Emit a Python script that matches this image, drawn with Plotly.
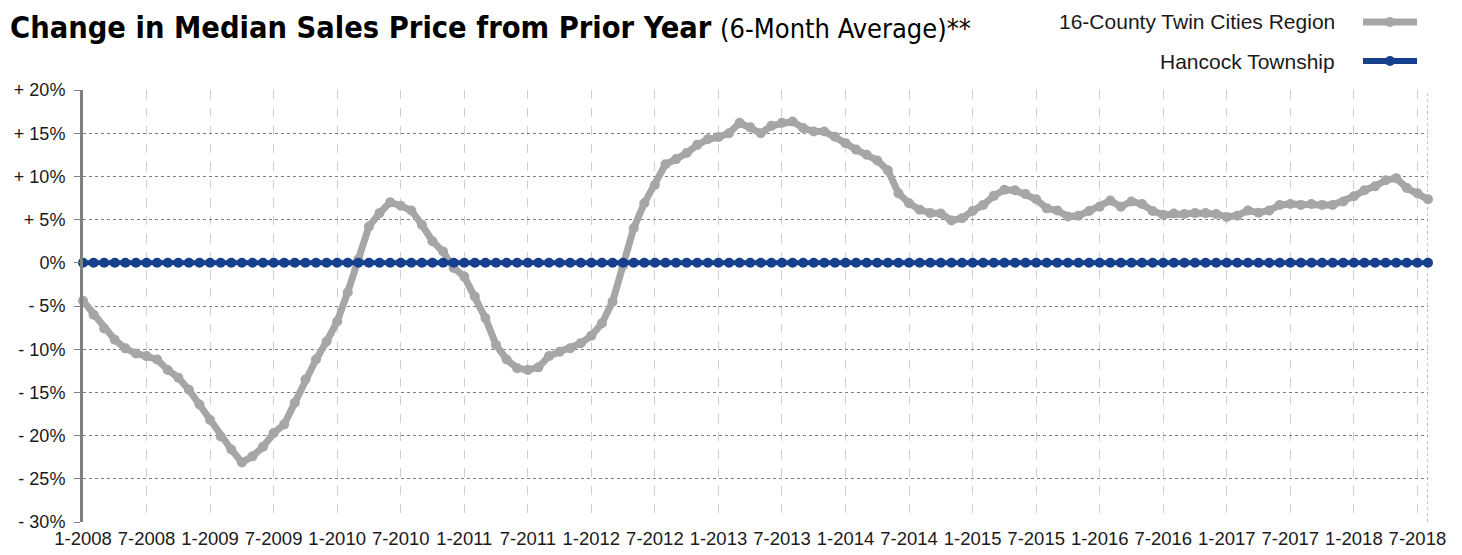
import plotly.graph_objects as go

# ---- data ----
region_name = "16-County Twin Cities Region"
township_name = "Hancock Township"

# Monthly values, 1-2008 .. 8-2018 (% change in 6-month average median sales price)
region_values = [
    -4.4, -6.0, -7.6, -8.9, -9.9, -10.5, -10.8, -11.2, -12.4, -13.3, -14.7, -16.4,
    -18.2, -20.1, -21.6, -23.1, -22.4, -21.3, -19.7, -18.7, -16.2, -13.5, -11.2, -9.1,
    -6.8, -3.4, 0.4, 4.2, 5.75, 7.0, 6.6, 6.05, 4.4, 2.5, 1.3, -0.6,
    -1.6, -3.9, -6.4, -9.5, -11.2, -12.2, -12.4, -12.1, -10.8, -10.3, -9.9, -9.3,
    -8.45, -7.0, -4.5, -0.3, 4.0, 6.9, 9.0, 11.4, 12.0, 12.7, 13.65, 14.3,
    14.55, 15.0, 16.2, 15.7, 15.0, 15.85, 16.2, 16.35, 15.6, 15.2, 15.2, 14.6,
    13.85, 13.1, 12.5, 11.85, 10.7, 8.05, 6.9, 6.15, 5.75, 5.7, 4.9, 5.15,
    6.0, 6.7, 7.75, 8.45, 8.4, 7.95, 7.35, 6.3, 6.05, 5.35, 5.45, 6.0,
    6.5, 7.2, 6.5, 7.1, 6.8, 6.0, 5.55, 5.7, 5.65, 5.75, 5.75, 5.65,
    5.3, 5.45, 6.05, 5.8, 6.05, 6.7, 6.8, 6.7, 6.8, 6.7, 6.7, 7.1,
    7.7, 8.4, 8.85, 9.55, 9.8, 8.65, 8.05, 7.35,
]

township_values = [
    0, 0, 0, 0, 0, 0, 0, 0, 0, 0, 0, 0, 0, 0, 0, 0,
    0, 0, 0, 0, 0, 0, 0, 0, 0, 0, 0, 0, 0, 0, 0, 0,
    0, 0, 0, 0, 0, 0, 0, 0, 0, 0, 0, 0, 0, 0, 0, 0,
    0, 0, 0, 0, 0, 0, 0, 0, 0, 0, 0, 0, 0, 0, 0, 0,
    0, 0, 0, 0, 0, 0, 0, 0, 0, 0, 0, 0, 0, 0, 0, 0,
    0, 0, 0, 0, 0, 0, 0, 0, 0, 0, 0, 0, 0, 0, 0, 0,
    0, 0, 0, 0, 0, 0, 0, 0, 0, 0, 0, 0, 0, 0, 0, 0,
    0, 0, 0, 0, 0, 0, 0, 0, 0, 0, 0, 0, 0, 0, 0, 0,
]

x_tick_labels = [
    "1-2008", "7-2008", "1-2009", "7-2009", "1-2010", "7-2010", "1-2011", "7-2011",
    "1-2012", "7-2012", "1-2013", "7-2013", "1-2014", "7-2014", "1-2015", "7-2015",
    "1-2016", "7-2016", "1-2017", "7-2017", "1-2018", "7-2018",
]
y_tick_values = [20, 15, 10, 5, 0, -5, -10, -15, -20, -25, -30]
y_tick_labels = ["+ 20%", "+ 15%", "+ 10%", "+ 5%", "0%", "- 5%", "- 10%",
                 "- 15%", "- 20%", "- 25%", "- 30%"]

title_main = "Change in Median Sales Price from Prior Year"
title_sub = "(6-Month Average)**"

# ---- styling ----
GRAY = "#a6a6a6"
BLUE = "#163f8e"
TEXT = "#1a1a1a"
OFF = 8  # page body margin
W, H = 1462 - 2 * OFF, 555 - 2 * OFF
ML, MR, MT, MB = 83 - OFF, 26, 90 - OFF, 25
PW, PH = W - ML - MR, H - MT - MB

x_idx = list(range(len(region_values)))
x_tick_vals = [i * 6 for i in range(len(x_tick_labels))]


def px_x(px):
    # page pixel -> paper fraction
    return (px - OFF - ML) / PW


def px_y(py):
    return (OFF + H - MB - py) / PH


fig = go.Figure()
fig.add_trace(go.Scatter(
    x=x_idx, y=region_values, mode="lines+markers", name=region_name,
    line=dict(color=GRAY, width=7), marker=dict(color=GRAY, size=10),
    cliponaxis=False, showlegend=False,
))
fig.add_trace(go.Scatter(
    x=x_idx, y=township_values, mode="lines+markers", name=township_name,
    line=dict(color=BLUE, width=5), marker=dict(color=BLUE, size=10),
    cliponaxis=False, showlegend=False,
))

shapes = []
# right border of plot (dotted)
shapes.append(dict(type="line", xref="x", yref="y", x0=x_idx[-1], x1=x_idx[-1],
                   y0=-30, y1=20, line=dict(color="#8c8c8c", width=1, dash="dot"),
                   layer="below"))

# custom legend (text on the left, symbol on the right)
legend_items = [(region_name, GRAY, 7, 22), (township_name, BLUE, 6, 61)]
annotations = []
for name, col, lw, py in legend_items:
    yy = px_y(py)
    shapes.append(dict(type="line", xref="paper", yref="paper",
                       x0=px_x(1363), x1=px_x(1417), y0=yy, y1=yy,
                       line=dict(color=col, width=lw)))
    r = 5
    shapes.append(dict(type="circle", xref="paper", yref="paper",
                       x0=px_x(1390 - r), x1=px_x(1390 + r),
                       y0=px_y(py + r), y1=px_y(py - r),
                       fillcolor=col, line=dict(color=col, width=0)))
    annotations.append(dict(text=name, xref="paper", yref="paper",
                            x=px_x(1337), y=yy, xanchor="right", yanchor="middle",
                            showarrow=False,
                            font=dict(family="Liberation Sans, Arial, sans-serif",
                                      size=21, color=TEXT)))

fig.update_layout(
    width=W, height=H,
    margin=dict(l=ML, r=MR, t=MT, b=MB, autoexpand=False),
    paper_bgcolor="white", plot_bgcolor="white",
    title=dict(
        text=f"<b>{title_main}</b> <span style='font-size:27px'>{title_sub}</span>",
        xref="container", yref="container", x=(10 - OFF) / W, y=1 - (27 - OFF) / H,
        xanchor="left", yanchor="middle",
        font=dict(family="Liberation Sans Narrow, DejaVu Sans Condensed, Roboto Condensed, Arial Narrow, sans-serif",
                  size=30.5, color="#000000"),
    ),
    shapes=shapes, annotations=annotations,
    showlegend=False,
)

fig.update_xaxes(
    range=[x_idx[0], x_idx[-1]],
    tickmode="array", tickvals=x_tick_vals, ticktext=x_tick_labels,
    showgrid=True, gridcolor="#cfcfcf", gridwidth=1, griddash="dash",
    showline=False, zeroline=False, ticks="", ticklabelstandoff=3,
    tickfont=dict(family="Liberation Sans, Arial, sans-serif", size=18.5, color=TEXT),
)
fig.update_yaxes(
    range=[-30, 20],
    tickmode="array", tickvals=y_tick_values, ticktext=y_tick_labels,
    showgrid=True, gridcolor="#7f7f7f", gridwidth=1, griddash="dot",
    showline=True, linecolor="#808080", linewidth=3,
    zeroline=False, ticks="outside", ticklen=6, tickcolor="#808080", tickwidth=1,
    ticklabelstandoff=5,
    tickfont=dict(family="Liberation Sans, Arial, sans-serif", size=18, color=TEXT),
)

fig.write_html("out.html")
